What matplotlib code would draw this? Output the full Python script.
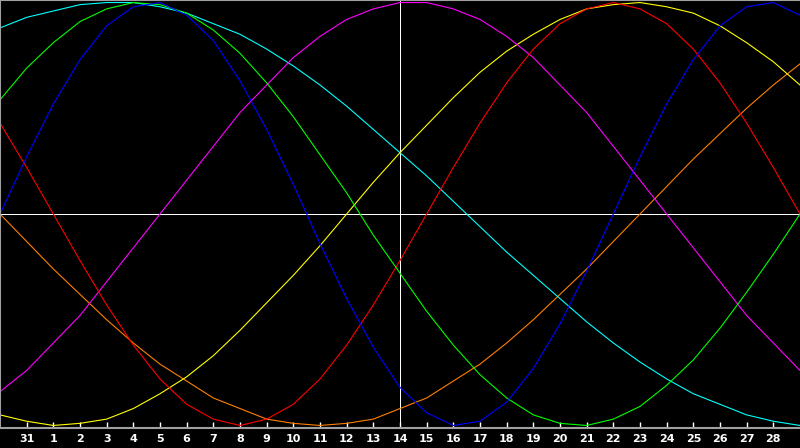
import matplotlib
matplotlib.use("Agg")
import matplotlib.pyplot as plt

# day index 0..30 across the chart, center day (index 15) is the 14th
day_index = list(range(31))
tick_index = list(range(1, 30))
tick_labels = ["31"] + [str(d) for d in range(1, 29)]

# daily values (-1 .. 1)
blue = [0.00, 0.27, 0.52, 0.73, 0.89, 0.98, 1.00, 0.94, 0.82, 0.63, 0.40,
        0.14, -0.14, -0.40, -0.63, -0.82, -0.94, -1.00, -0.98, -0.89, -0.73,
        -0.52, -0.27, 0.00, 0.27, 0.52, 0.73, 0.89, 0.98, 1.00, 0.94]
red = [0.43, 0.22, 0.00, -0.22, -0.43, -0.62, -0.78, -0.90, -0.97, -1.00, -0.97,
       -0.90, -0.78, -0.62, -0.43, -0.22, 0.00, 0.22, 0.43, 0.62, 0.78,
       0.90, 0.97, 1.00, 0.97, 0.90, 0.78, 0.62, 0.43, 0.22, 0.00]
green = [0.54, 0.69, 0.81, 0.91, 0.97, 1.00, 0.99, 0.95, 0.87, 0.76, 0.62,
         0.46, 0.28, 0.10, -0.10, -0.28, -0.46, -0.62, -0.76, -0.87, -0.95,
         -0.99, -1.00, -0.97, -0.91, -0.81, -0.69, -0.54, -0.37, -0.19, 0.00]
magenta = [-0.84, -0.74, -0.61, -0.48, -0.32, -0.16, 0.00, 0.16, 0.32, 0.48, 0.61,
           0.74, 0.84, 0.92, 0.97, 1.00, 1.00, 0.97, 0.92, 0.84, 0.74,
           0.61, 0.48, 0.32, 0.16, 0.00, -0.16, -0.32, -0.48, -0.61, -0.74]
yellow = [-0.95, -0.98, -1.00, -0.99, -0.97, -0.92, -0.85, -0.77, -0.67, -0.55, -0.42,
          -0.29, -0.15, 0.00, 0.15, 0.29, 0.42, 0.55, 0.67, 0.77, 0.85,
          0.92, 0.97, 0.99, 1.00, 0.98, 0.95, 0.89, 0.81, 0.72, 0.61]
orange = [0.00, -0.13, -0.26, -0.38, -0.50, -0.61, -0.71, -0.79, -0.87, -0.92, -0.97,
          -0.99, -1.00, -0.99, -0.97, -0.92, -0.87, -0.79, -0.71, -0.61, -0.50,
          -0.38, -0.26, -0.13, 0.00, 0.13, 0.26, 0.38, 0.50, 0.61, 0.71]
cyan = [0.88, 0.93, 0.96, 0.99, 1.00, 1.00, 0.98, 0.95, 0.90, 0.85, 0.78,
        0.70, 0.61, 0.51, 0.40, 0.29, 0.18, 0.06, -0.06, -0.18, -0.29,
        -0.40, -0.51, -0.61, -0.70, -0.78, -0.85, -0.90, -0.95, -0.98, -1.00]

fig = plt.figure(figsize=(8, 4.48), dpi=100, facecolor="black")
ax = fig.add_axes([0, 20 / 448, 1, 428 / 448])
ax.set_facecolor("black")

ax.axhline(0, color="white", lw=0.7, zorder=1, antialiased=False)
ax.axvline(15, color="white", lw=0.7, zorder=1, antialiased=False)

series = [(orange, "#ff8000"), (cyan, "#00ffff"), (yellow, "#ffff00"),
          (magenta, "#ff00ff"), (red, "#ff0000"), (green, "#00ff00"),
          (blue, "#0000ff")]
for vals, col in series:
    ax.plot(day_index, vals, color=col, lw=0.8, zorder=2)

ax.set_xlim(0, 30)
ax.set_ylim(-1.012, 1.012)
ax.set_yticks([])
ax.set_xticks(tick_index)
ax.set_xticklabels(tick_labels, fontsize=8, fontweight="bold",
                   family="DejaVu Sans")
ax.tick_params(axis="x", direction="in", length=4, width=1, color="white",
               labelcolor="white", pad=4)

for side in ["left", "top", "bottom"]:
    ax.spines[side].set_color("#a0a0a0")
    ax.spines[side].set_linewidth(1.5)
ax.spines["right"].set_visible(False)

fig.savefig("out.png", dpi=100, facecolor="black")
